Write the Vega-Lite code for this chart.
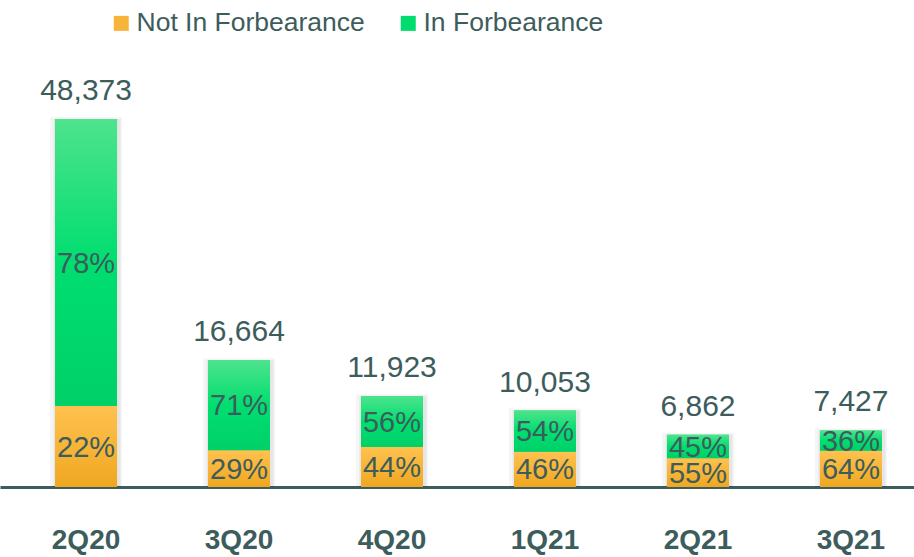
{
  "$schema": "https://vega.github.io/schema/vega-lite/v6.json",
  "width": 937,
  "height": 487,
  "autosize": {"type": "none"},
  "padding": {"left": 0, "top": 0, "right": 0, "bottom": 70},
  "background": "white",
  "config": {
    "view": {"stroke": null},
    "font": "Liberation Sans"
  },
  "data": {
    "values": [
      {"quarter": "2Q20", "status": "Not In Forbearance", "count": 10642, "pct": "22%"},
      {"quarter": "2Q20", "status": "In Forbearance", "count": 37731, "pct": "78%"},
      {"quarter": "3Q20", "status": "Not In Forbearance", "count": 4833, "pct": "29%"},
      {"quarter": "3Q20", "status": "In Forbearance", "count": 11831, "pct": "71%"},
      {"quarter": "4Q20", "status": "Not In Forbearance", "count": 5246, "pct": "44%"},
      {"quarter": "4Q20", "status": "In Forbearance", "count": 6677, "pct": "56%"},
      {"quarter": "1Q21", "status": "Not In Forbearance", "count": 4624, "pct": "46%"},
      {"quarter": "1Q21", "status": "In Forbearance", "count": 5429, "pct": "54%"},
      {"quarter": "2Q21", "status": "Not In Forbearance", "count": 3774, "pct": "55%"},
      {"quarter": "2Q21", "status": "In Forbearance", "count": 3088, "pct": "45%"},
      {"quarter": "3Q21", "status": "Not In Forbearance", "count": 4753, "pct": "64%"},
      {"quarter": "3Q21", "status": "In Forbearance", "count": 2674, "pct": "36%"}
    ]
  },
  "encoding": {
    "x": {
      "field": "quarter",
      "type": "nominal",
      "sort": ["2Q20", "3Q20", "4Q20", "1Q21", "2Q21", "3Q21"],
      "scale": {"paddingInner": 0.595, "paddingOuter": 0.36},
      "axis": {
        "title": null,
        "labelAngle": 0,
        "ticks": false,
        "domainColor": "#3d5c5c",
        "domainWidth": 3,
        "labelFontSize": 28,
        "labelFontWeight": "bold",
        "labelColor": "#3d5c5c",
        "labelPadding": 39,
        "labelFont": "Liberation Sans"
      }
    }
  },
  "layer": [
    {
      "mark": {"type": "bar", "size": 72, "fill": "#000000", "opacity": 0.04, "yOffset": -2},
      "encoding": {
        "y": {"aggregate": "sum", "field": "count", "type": "quantitative", "scale": {"domain": [0, 64015], "nice": false, "zero": true}, "axis": null}
      }
    },
    {
      "mark": {"type": "bar", "size": 67, "fill": "#000000", "opacity": 0.06, "xOffset": 1},
      "encoding": {
        "y": {"aggregate": "sum", "field": "count", "type": "quantitative"}
      }
    },
    {
      "transform": [
        {"stack": "count", "groupby": ["quarter"], "sort": [{"field": "status", "order": "descending"}], "as": ["y0", "y1"]}
      ],
      "mark": {"type": "bar"},
      "encoding": {
        "y": {"field": "y0", "type": "quantitative"},
        "y2": {"field": "y1"},
        "color": {
          "field": "status",
          "type": "nominal",
          "scale": {
            "domain": ["Not In Forbearance", "In Forbearance"],
            "range": ["#f7b43a", "#00dc6e"]
          },
          "legend": {
            "title": null,
            "orient": "none",
            "direction": "horizontal",
            "legendX": 108,
            "legendY": 10,
            "padding": 0,
            "symbolType": "square",
            "symbolSize": 225,
            "symbolStrokeWidth": 0,
            "labelFontSize": 26.5,
            "labelColor": "#3d5c5c",
            "labelFont": "Liberation Sans",
            "labelOffset": 2,
            "columnPadding": 30,
            "labelLimit": 400
          }
        }
      }
    },
    {
      "transform": [
        {"stack": "count", "groupby": ["quarter"], "sort": [{"field": "status", "order": "descending"}], "as": ["y0", "y1"]},
        {"filter": "datum.status === 'Not In Forbearance'"}
      ],
      "mark": {"type": "bar", "fill": {"gradient": "linear", "x1": 0, "y1": 0, "x2": 0, "y2": 1, "stops": [{"offset": 0, "color": "#ffc24f"}, {"offset": 1, "color": "#efa720"}]}},
      "encoding": {
        "y": {"field": "y0", "type": "quantitative"},
        "y2": {"field": "y1"}
      }
    },
    {
      "transform": [
        {"stack": "count", "groupby": ["quarter"], "sort": [{"field": "status", "order": "descending"}], "as": ["y0", "y1"]},
        {"filter": "datum.status === 'In Forbearance'"}
      ],
      "mark": {"type": "bar", "fill": {"gradient": "linear", "x1": 0, "y1": 0, "x2": 0, "y2": 1, "stops": [{"offset": 0, "color": "#4ee38c"}, {"offset": 0.5, "color": "#00de70"}, {"offset": 1, "color": "#00d068"}]}},
      "encoding": {
        "y": {"field": "y0", "type": "quantitative"},
        "y2": {"field": "y1"}
      }
    },
    {
      "transform": [
        {"stack": "count", "groupby": ["quarter"], "sort": [{"field": "status", "order": "descending"}], "as": ["y0", "y1"]},
        {"fold": ["y0", "y1"], "as": ["edge", "pos"]},
        {"aggregate": [{"op": "mean", "field": "pos", "as": "mid"}], "groupby": ["quarter", "status", "pct"]}
      ],
      "mark": {"type": "text", "fontSize": 29, "color": "#3d5c5c", "baseline": "middle", "font": "Liberation Sans", "dy": 1},
      "encoding": {
        "y": {"field": "mid", "type": "quantitative"},
        "text": {"field": "pct"}
      }
    },
    {
      "mark": {"type": "text", "fontSize": 30, "color": "#3d5c5c", "baseline": "alphabetic", "dy": -19, "font": "Liberation Sans"},
      "encoding": {
        "y": {"aggregate": "sum", "field": "count", "type": "quantitative"},
        "text": {"aggregate": "sum", "field": "count", "format": ","}
      }
    }
  ]
}
